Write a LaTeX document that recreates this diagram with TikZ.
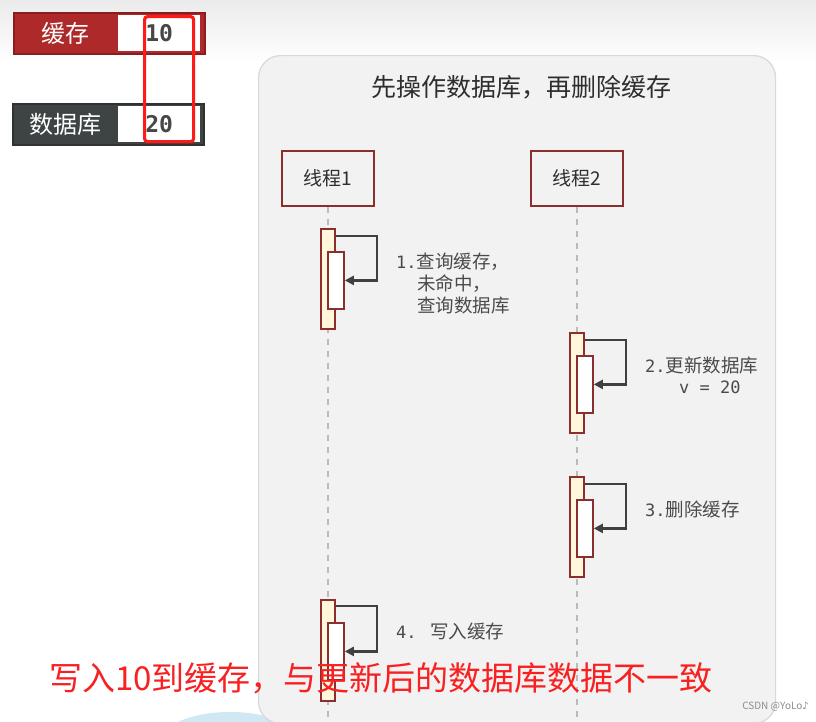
\documentclass[tikz,border=0pt]{standalone}
\usepackage{fontspec}
\setmainfont{Noto Sans CJK SC}
\newfontfamily\monof{DejaVu Sans Mono}
\newfontfamily\symf{DejaVu Sans}
\usetikzlibrary{arrows.meta}
\definecolor{cacheRed}{HTML}{AE2A2A}
\definecolor{cacheDark}{HTML}{8A1E1E}
\definecolor{dbGray}{HTML}{3E4444}
\definecolor{dbDark}{HTML}{2E3232}
\definecolor{hlRed}{HTML}{FF1A1A}
\definecolor{panelGray}{HTML}{F2F2F2}
\definecolor{panelBorder}{HTML}{D8D8D8}
\definecolor{maroon}{HTML}{8B2E2E}
\definecolor{actFill}{HTML}{FFF6DC}
\definecolor{txtGray}{HTML}{4A4A4A}
\definecolor{titleGray}{HTML}{2E2E2E}
\definecolor{arrGray}{HTML}{404040}
\definecolor{lifeGray}{HTML}{BBBBBB}
\definecolor{blobBlue}{HTML}{CFE8F3}
\definecolor{noteRed}{HTML}{F82020}
\tikzset{
  keybox/.style={anchor=north west, inner sep=0pt, minimum width=191pt, minimum height=41pt, line width=1.6pt},
  valbox/.style={anchor=north west, inner sep=0pt, minimum width=82pt, minimum height=36pt, fill=white,
    font=\monof\bfseries\fontsize{23}{26}\selectfont, text=black!72},
  keylbl/.style={inner sep=0pt, text=white, font=\fontsize{24}{28}\selectfont},
  thread/.style={draw=maroon, line width=2pt, fill=panelGray, minimum width=92pt, minimum height=55pt,
    inner sep=0pt, font=\fontsize{19}{22}\selectfont, text=titleGray},
  lifeline/.style={draw=lifeGray, line width=1.4pt, dash pattern=on 6pt off 6pt},
  actouter/.style={anchor=north west, draw=maroon, line width=1.8pt, fill=actFill, minimum width=14pt,
    minimum height=100pt, inner sep=0pt},
  actinner/.style={anchor=north west, draw=maroon, line width=1.8pt, fill=white, minimum width=16pt,
    minimum height=57pt, inner sep=0pt},
  selfarr/.style={draw=arrGray, line width=2.2pt, -{Triangle[length=9pt,width=9pt]}},
  lbltext/.style={anchor=west, inner sep=0pt, text=txtGray, font=\fontsize{18.5}{22}\selectfont},
}
\newcommand\mn[1]{{\monof\fontsize{17}{20}\selectfont #1}}
\begin{document}
\begin{tikzpicture}[x=1pt,y=-1pt]
\useasboundingbox (0,0) rectangle (816,721);
\fill[white] (0,0) rectangle (816,721);
\shade[top color=black!8, bottom color=white] (0,0) rectangle (816,62);

% top-left legend
\node[keybox, draw=cacheDark, fill=cacheRed] (cache) at (13,12) {};
\node[valbox] (cacheval) at (118,15) {10};
\node[keylbl] (cachelbl) at (65,33) {缓存};
\node[keybox, draw=dbDark, fill=dbGray] (db) at (12,103) {};
\node[valbox] (dbval) at (118,106) {20};
\node[keylbl] (dblbl) at (65,124) {数据库};
\node[anchor=north west, draw=hlRed, line width=3.2pt, rounded corners=3pt, minimum width=49pt,
  minimum height=125pt, inner sep=0pt] (hl) at (143,15) {};

% blob
\fill[blobBlue] (230,740) ellipse [x radius=68, y radius=28];

% panel
\node[anchor=north west, fill=panelGray, draw=panelBorder, line width=1.2pt, rounded corners=22pt,
  minimum width=517pt, minimum height=668pt, inner sep=0pt] (panel) at (258,55) {};
\node[inner sep=0pt, text=titleGray, font=\fontsize{25}{28}\selectfont] (title) at (521,87) {先操作数据库，再删除缓存};

% threads
\node[thread] (t1) at (328,178) {线程1};
\node[thread] (t2) at (577,178) {线程2};
\coordinate (t1end) at (328,722);
\coordinate (t2end) at (577,722);
\draw[lifeline] (t1.south) -- (t1end);
\draw[lifeline] (t2.south) -- (t2end);

% step 1
\node[actouter] (a1) at (320,228) {};
\node[actinner] (a1i) at (327,251) {};
\draw[selfarr] ([yshift=-8pt]a1.north east) -- ++(41,0) |- (a1i.east);
\node[lbltext] (l1a) at (396,262) {\mn{1.}查询缓存，};
\node[lbltext] (l1b) at (417,284) {未命中，};
\node[lbltext] (l1c) at (417,305) {查询数据库};

% step 2
\node[actouter] (a2) at (569,332) {};
\node[actinner] (a2i) at (576,355) {};
\draw[selfarr] ([yshift=-8pt]a2.north east) -- ++(41,0) |- (a2i.east);
\node[lbltext] (l2a) at (645,365) {\mn{2.}更新数据库};
\node[lbltext] (l2b) at (679,387) {\mn{v = 20}};

% step 3
\node[actouter] (a3) at (569,476) {};
\node[actinner] (a3i) at (576,499) {};
\draw[selfarr] ([yshift=-8pt]a3.north east) -- ++(41,0) |- (a3i.east);
\node[lbltext] (l3) at (645,509) {\mn{3.}删除缓存};

% step 4
\node[actouter, minimum height=101pt] (a4) at (320,599) {};
\node[actinner] (a4i) at (327,622) {};
\draw[selfarr] ([yshift=-7pt]a4.north east) -- ++(41,0) |- (a4i.east);
\node[lbltext] (l4) at (396,631) {\mn{4. }写入缓存};

% red note
\node[anchor=west, inner sep=0pt, text=noteRed, font=\fontsize{33}{36}\selectfont] (note) at (49,678)
  {写入10到缓存，与更新后的数据库数据不一致};

% watermark
\node[anchor=east, inner sep=0pt, text=black!45, font=\fontsize{10}{12}\selectfont] (wm) at (809,707)
  {CSDN @YoLo{\symf ♪}};
\end{tikzpicture}
\end{document}
